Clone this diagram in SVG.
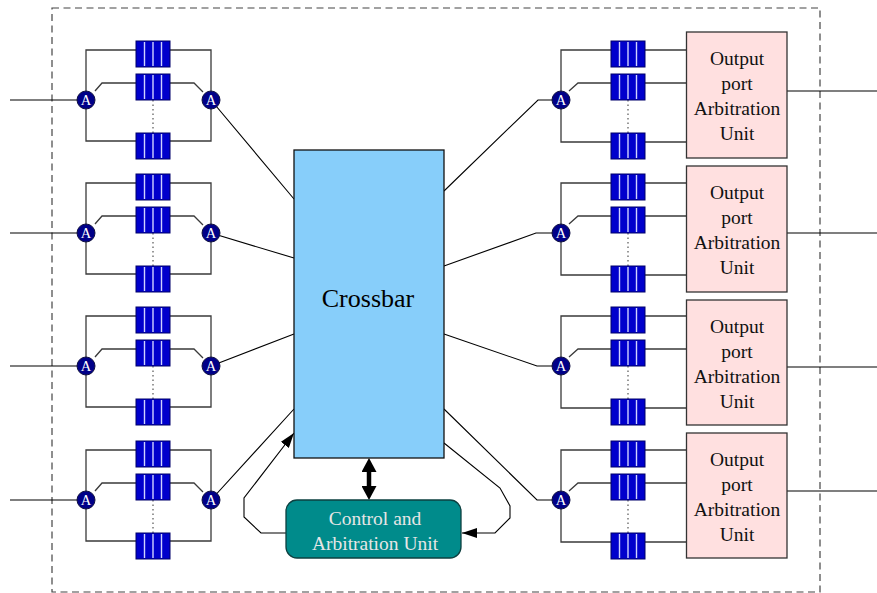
<svg xmlns="http://www.w3.org/2000/svg" xmlns:xlink="http://www.w3.org/1999/xlink" width="877" height="593" viewBox="0 0 877 593">
  <style>
    .frame { fill: none; stroke: #444; stroke-width: 1.2; stroke-dasharray: 7 4.5; }
    .wire { fill: none; stroke: #3a3a3a; stroke-width: 1.3; }
    .dots { fill: none; stroke: #555; stroke-width: 1.2; stroke-dasharray: 1.5 3; }
    .conn { fill: none; stroke: #000; stroke-width: 1.1; }
    .arb { fill: #000088; stroke: #101040; stroke-width: 1; }
    .arbt { font-family: "Liberation Serif", "Times New Roman", serif; font-size: 14.5px; fill: #fff; text-anchor: middle; }
    .outbox { fill: #ffe0e0; stroke: #333; stroke-width: 1.3; }
    .outt { font-family: "Liberation Serif", "Times New Roman", serif; font-size: 19.5px; fill: #111; text-anchor: middle; }
    .xbar { fill: #87cefa; stroke: #111; stroke-width: 1.3; }
    .xbart { font-family: "Liberation Serif", "Times New Roman", serif; font-size: 26px; fill: #000; text-anchor: middle; }
    .ctrl { fill: #008b8b; stroke: #0d4040; stroke-width: 1.3; }
    .ctrlt { font-family: "Liberation Serif", "Times New Roman", serif; font-size: 19.5px; fill: #e6e6e6; text-anchor: middle; }
  </style>
  <defs>
    <!-- four-slot queue buffer -->
    <g id="buf">
      <rect x="0" y="0" width="34" height="26" fill="#0000cc" stroke="#00006a" stroke-width="1"/>
      <path d="M8.5,1V25M17,1V25M25.5,1V25" stroke="#cfd2ff" stroke-width="1.4"/>
    </g>
    <marker id="tip" markerUnits="userSpaceOnUse" markerWidth="16" markerHeight="10" refX="15" refY="5" orient="auto">
      <path d="M0,0 L15,5 L0,10 z" fill="#000"/>
    </marker>
    <marker id="fat" markerUnits="userSpaceOnUse" markerWidth="15" markerHeight="15" refX="7" refY="7.5" orient="auto-start-reverse">
      <path d="M0,0 L14,7.5 L0,15 z" fill="#000"/>
    </marker>
  </defs>

  <rect class="frame" x="52" y="8" width="768" height="584"/>

  <!-- connectors -->
  <g id="connectors">
    <path class="conn" d="M10,100H78M10,233H78M10,366H78M10,500H78"/>
    <path class="conn" d="M211,100L294,199M211,233L294,258M211,366L294,334M211,500L294,409"/>
    <path class="conn" d="M444,191L538,100H561M444,266L536,233H561M444,334L537,366H561M444,409L537,500H561"/>
    <path class="conn" d="M787,91H877M787,233H877M787,367H877M787,491H877"/>
    <path class="conn" d="M286,533H261L244,517V498L294,433" marker-end="url(#tip)"/>
    <path class="conn" d="M444,443L500,488L510,506V518L495,533H462" marker-end="url(#tip)"/>
    <path d="M369,465V493" stroke="#000" stroke-width="4.5" marker-start="url(#fat)" marker-end="url(#fat)"/>
  </g>

  <!-- input queue blocks -->
  <g id="in1" transform="translate(86,100)">
    <path class="wire" d="M0,-50H125V41H0Z"/>
    <path class="wire" d="M9,-9L16,-17H108L117,-8"/>
    <path class="dots" d="M67,0V33"/>
    <use href="#buf" x="50" y="-59"/><use href="#buf" x="50" y="-26"/><use href="#buf" x="50" y="33"/>
    <circle class="arb" cx="0" cy="0" r="9"/><text class="arbt" x="0" y="5">A</text>
    <circle class="arb" cx="125" cy="0" r="9"/><text class="arbt" x="125" y="5">A</text>
  </g>
  <g id="in2" transform="translate(86,233)">
    <path class="wire" d="M0,-50H125V41H0Z"/>
    <path class="wire" d="M9,-9L16,-17H108L117,-8"/>
    <path class="dots" d="M67,0V33"/>
    <use href="#buf" x="50" y="-59"/><use href="#buf" x="50" y="-26"/><use href="#buf" x="50" y="33"/>
    <circle class="arb" cx="0" cy="0" r="9"/><text class="arbt" x="0" y="5">A</text>
    <circle class="arb" cx="125" cy="0" r="9"/><text class="arbt" x="125" y="5">A</text>
  </g>
  <g id="in3" transform="translate(86,366)">
    <path class="wire" d="M0,-50H125V41H0Z"/>
    <path class="wire" d="M9,-9L16,-17H108L117,-8"/>
    <path class="dots" d="M67,0V33"/>
    <use href="#buf" x="50" y="-59"/><use href="#buf" x="50" y="-26"/><use href="#buf" x="50" y="33"/>
    <circle class="arb" cx="0" cy="0" r="9"/><text class="arbt" x="0" y="5">A</text>
    <circle class="arb" cx="125" cy="0" r="9"/><text class="arbt" x="125" y="5">A</text>
  </g>
  <g id="in4" transform="translate(86,500)">
    <path class="wire" d="M0,-50H125V41H0Z"/>
    <path class="wire" d="M9,-9L16,-17H108L117,-8"/>
    <path class="dots" d="M67,0V33"/>
    <use href="#buf" x="50" y="-59"/><use href="#buf" x="50" y="-26"/><use href="#buf" x="50" y="33"/>
    <circle class="arb" cx="0" cy="0" r="9"/><text class="arbt" x="0" y="5">A</text>
    <circle class="arb" cx="125" cy="0" r="9"/><text class="arbt" x="125" y="5">A</text>
  </g>

  <!-- output queue blocks with port arbiters -->
  <g id="out1">
    <g transform="translate(561,100)">
      <path class="wire" d="M126,-50H0V42H126"/>
      <path class="wire" d="M8,-9L17,-17H126"/>
      <path class="dots" d="M67,0V33"/>
      <use href="#buf" x="50" y="-59"/><use href="#buf" x="50" y="-26"/><use href="#buf" x="50" y="33"/>
      <circle class="arb" cx="0" cy="0" r="9"/><text class="arbt" x="0" y="5">A</text>
    </g>
    <rect class="outbox" x="686.5" y="32" width="100.5" height="126"/>
    <text class="outt" x="737" y="65">Output</text>
    <text class="outt" x="737" y="90">port</text>
    <text class="outt" x="737" y="115">Arbitration</text>
    <text class="outt" x="737" y="140">Unit</text>
  </g>
  <g id="out2">
    <g transform="translate(561,233)">
      <path class="wire" d="M126,-50H0V42H126"/>
      <path class="wire" d="M8,-9L17,-17H126"/>
      <path class="dots" d="M67,0V33"/>
      <use href="#buf" x="50" y="-59"/><use href="#buf" x="50" y="-26"/><use href="#buf" x="50" y="33"/>
      <circle class="arb" cx="0" cy="0" r="9"/><text class="arbt" x="0" y="5">A</text>
    </g>
    <rect class="outbox" x="686.5" y="166" width="100.5" height="126"/>
    <text class="outt" x="737" y="199">Output</text>
    <text class="outt" x="737" y="224">port</text>
    <text class="outt" x="737" y="249">Arbitration</text>
    <text class="outt" x="737" y="274">Unit</text>
  </g>
  <g id="out3">
    <g transform="translate(561,366)">
      <path class="wire" d="M126,-50H0V42H126"/>
      <path class="wire" d="M8,-9L17,-17H126"/>
      <path class="dots" d="M67,0V33"/>
      <use href="#buf" x="50" y="-59"/><use href="#buf" x="50" y="-26"/><use href="#buf" x="50" y="33"/>
      <circle class="arb" cx="0" cy="0" r="9"/><text class="arbt" x="0" y="5">A</text>
    </g>
    <rect class="outbox" x="686.5" y="300" width="100.5" height="125"/>
    <text class="outt" x="737" y="333">Output</text>
    <text class="outt" x="737" y="358">port</text>
    <text class="outt" x="737" y="383">Arbitration</text>
    <text class="outt" x="737" y="408">Unit</text>
  </g>
  <g id="out4">
    <g transform="translate(561,500)">
      <path class="wire" d="M126,-50H0V42H126"/>
      <path class="wire" d="M8,-9L17,-17H126"/>
      <path class="dots" d="M67,0V33"/>
      <use href="#buf" x="50" y="-59"/><use href="#buf" x="50" y="-26"/><use href="#buf" x="50" y="33"/>
      <circle class="arb" cx="0" cy="0" r="9"/><text class="arbt" x="0" y="5">A</text>
    </g>
    <rect class="outbox" x="686.5" y="433" width="100.5" height="125"/>
    <text class="outt" x="737" y="466">Output</text>
    <text class="outt" x="737" y="491">port</text>
    <text class="outt" x="737" y="516">Arbitration</text>
    <text class="outt" x="737" y="541">Unit</text>
  </g>

  <!-- switch fabric -->
  <g id="crossbar">
    <rect class="xbar" x="294" y="150" width="150" height="308"/>
    <text class="xbart" x="368" y="307">Crossbar</text>
  </g>

  <g id="control">
    <rect class="ctrl" x="286" y="500" width="175" height="58" rx="11"/>
    <text class="ctrlt" x="375" y="525">Control and</text>
    <text class="ctrlt" x="375" y="550">Arbitration Unit</text>
  </g>
</svg>
